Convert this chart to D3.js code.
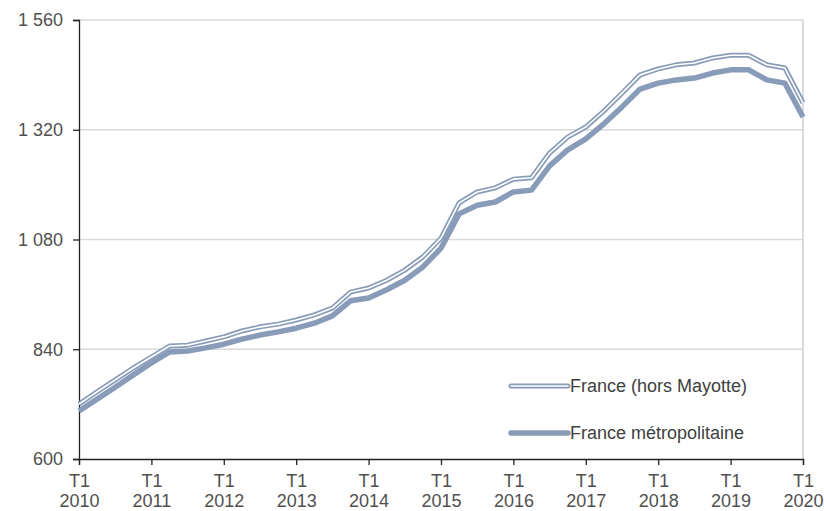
<!DOCTYPE html>
<html>
<head>
<meta charset="utf-8">
<script src="https://cdn.jsdelivr.net/npm/d3@7"></script>
<style>
  html, body { margin: 0; padding: 0; background: #fff; }
  svg text { font-family: "Liberation Sans", Arial, sans-serif; }
</style>
</head>
<body>
<div id="chart"></div>
<script>
// quarterly series, T1 2010 -> T1 2020
const years = [2010, 2011, 2012, 2013, 2014, 2015, 2016, 2017, 2018, 2019, 2020];
const franceHorsMayotte = [
  720, 747, 773, 799, 823, 847, 849, 858, 867, 880,
  889, 895, 904, 915, 930, 965, 974, 991, 1013, 1042,
  1083, 1160, 1184, 1193, 1212, 1215, 1269, 1304, 1326, 1361,
  1400, 1440, 1453, 1462, 1466, 1477, 1483, 1483, 1462, 1455,
  1379
];
const franceMetro = [
  705, 731, 757, 784, 810, 834, 836, 843, 851, 862,
  871, 878, 886, 897, 913, 946, 952, 970, 991, 1020,
  1061, 1136, 1155, 1162, 1184, 1188, 1241, 1276, 1300, 1333,
  1370, 1409, 1422, 1429, 1433, 1444, 1451, 1451, 1429, 1422,
  1348
];
const yTicks = [600, 840, 1080, 1320, 1560];
const seriesNames = ['France (hors Mayotte)', 'France métropolitaine'];

const width = 824, height = 511;
const margin = { top: 20, right: 21, bottom: 52, left: 79 };
const w = width - margin.left - margin.right;
const h = height - margin.top - margin.bottom;
const lineColor = '#889bb8';

const svg = d3.select('#chart').append('svg')
  .attr('width', width).attr('height', height);
const g = svg.append('g').attr('transform', `translate(${margin.left},${margin.top})`);

const nQ = franceMetro.length;
const x = d3.scaleLinear().domain([0, nQ - 1]).range([0, w]);
const y = d3.scaleLinear().domain([600, 1560]).range([h, 0]);

const fr = d3.formatLocale({ decimal: ',', thousands: ' ', grouping: [3], currency: ['', ' €'] });
const fmt = fr.format(',d');

// gridlines
g.append('g').selectAll('line')
  .data(yTicks.filter(d => d > 600))
  .enter().append('line')
  .attr('x1', 0).attr('x2', w)
  .attr('y1', d => y(d)).attr('y2', d => y(d))
  .attr('stroke', '#d9d9d9').attr('stroke-width', 1.5);

// right border
g.append('line')
  .attr('x1', w).attr('x2', w).attr('y1', 0).attr('y2', h)
  .attr('stroke', '#cfcfcf').attr('stroke-width', 1.5);

// y axis
const yAxis = g.append('g')
  .call(d3.axisLeft(y).tickValues(yTicks).tickSize(6).tickPadding(10).tickFormat(fmt));
yAxis.select('.domain').attr('stroke', '#222').attr('stroke-width', 1.3);
yAxis.selectAll('.tick line').attr('stroke', '#222').attr('stroke-width', 1.3);
yAxis.selectAll('.tick text').attr('font-size', 18).attr('fill', '#505050');

// x axis
const xTickIdx = years.map((yr, i) => i * 4);
const xAxis = g.append('g').attr('transform', `translate(0,${h})`)
  .call(d3.axisBottom(x).tickValues(xTickIdx).tickSize(6).tickFormat(() => ''));
xAxis.select('.domain').attr('stroke', '#222').attr('stroke-width', 1.3);
xAxis.selectAll('.tick line').attr('stroke', '#222').attr('stroke-width', 1.3);
xAxis.selectAll('.tick').each(function(d, i) {
  const t = d3.select(this);
  t.append('text').attr('y', 28).attr('text-anchor', 'middle')
    .attr('font-size', 18).attr('fill', '#505050').text('T1');
  t.append('text').attr('y', 48).attr('text-anchor', 'middle')
    .attr('font-size', 18).attr('fill', '#505050').text(years[i]);
});

const line = d3.line().x((d, i) => x(i)).y(d => y(d));

// metro line (solid)
g.append('path').datum(franceMetro)
  .attr('d', line).attr('fill', 'none')
  .attr('stroke', lineColor).attr('stroke-width', 5.5)
  .attr('stroke-linejoin', 'round');

// hors Mayotte (double line)
g.append('path').datum(franceHorsMayotte)
  .attr('d', line).attr('fill', 'none')
  .attr('stroke', lineColor).attr('stroke-width', 5)
  .attr('stroke-linejoin', 'round');
g.append('path').datum(franceHorsMayotte)
  .attr('d', line).attr('fill', 'none')
  .attr('stroke', '#fff').attr('stroke-width', 1.6)
  .attr('stroke-linejoin', 'round');

// legend
const legend = svg.append('g').attr('transform', 'translate(511,386)');
const lg = legend.selectAll('g').data(seriesNames).enter().append('g')
  .attr('transform', (d, i) => `translate(0,${i * 47})`);
lg.append('line').attr('x1', 0).attr('x2', 57).attr('y1', 0).attr('y2', 0)
  .attr('stroke', lineColor).attr('stroke-linecap', 'round')
  .attr('stroke-width', (d, i) => i === 0 ? 5 : 5.5);
lg.filter((d, i) => i === 0).append('line')
  .attr('x1', 0).attr('x2', 57).attr('y1', 0).attr('y2', 0)
  .attr('stroke', '#fff').attr('stroke-width', 1.6).attr('stroke-linecap', 'round');
lg.append('text').attr('x', 59).attr('y', 0).attr('dy', '0.35em')
  .attr('font-size', 18).attr('fill', '#404040').text(d => d);
</script>
</body>
</html>
